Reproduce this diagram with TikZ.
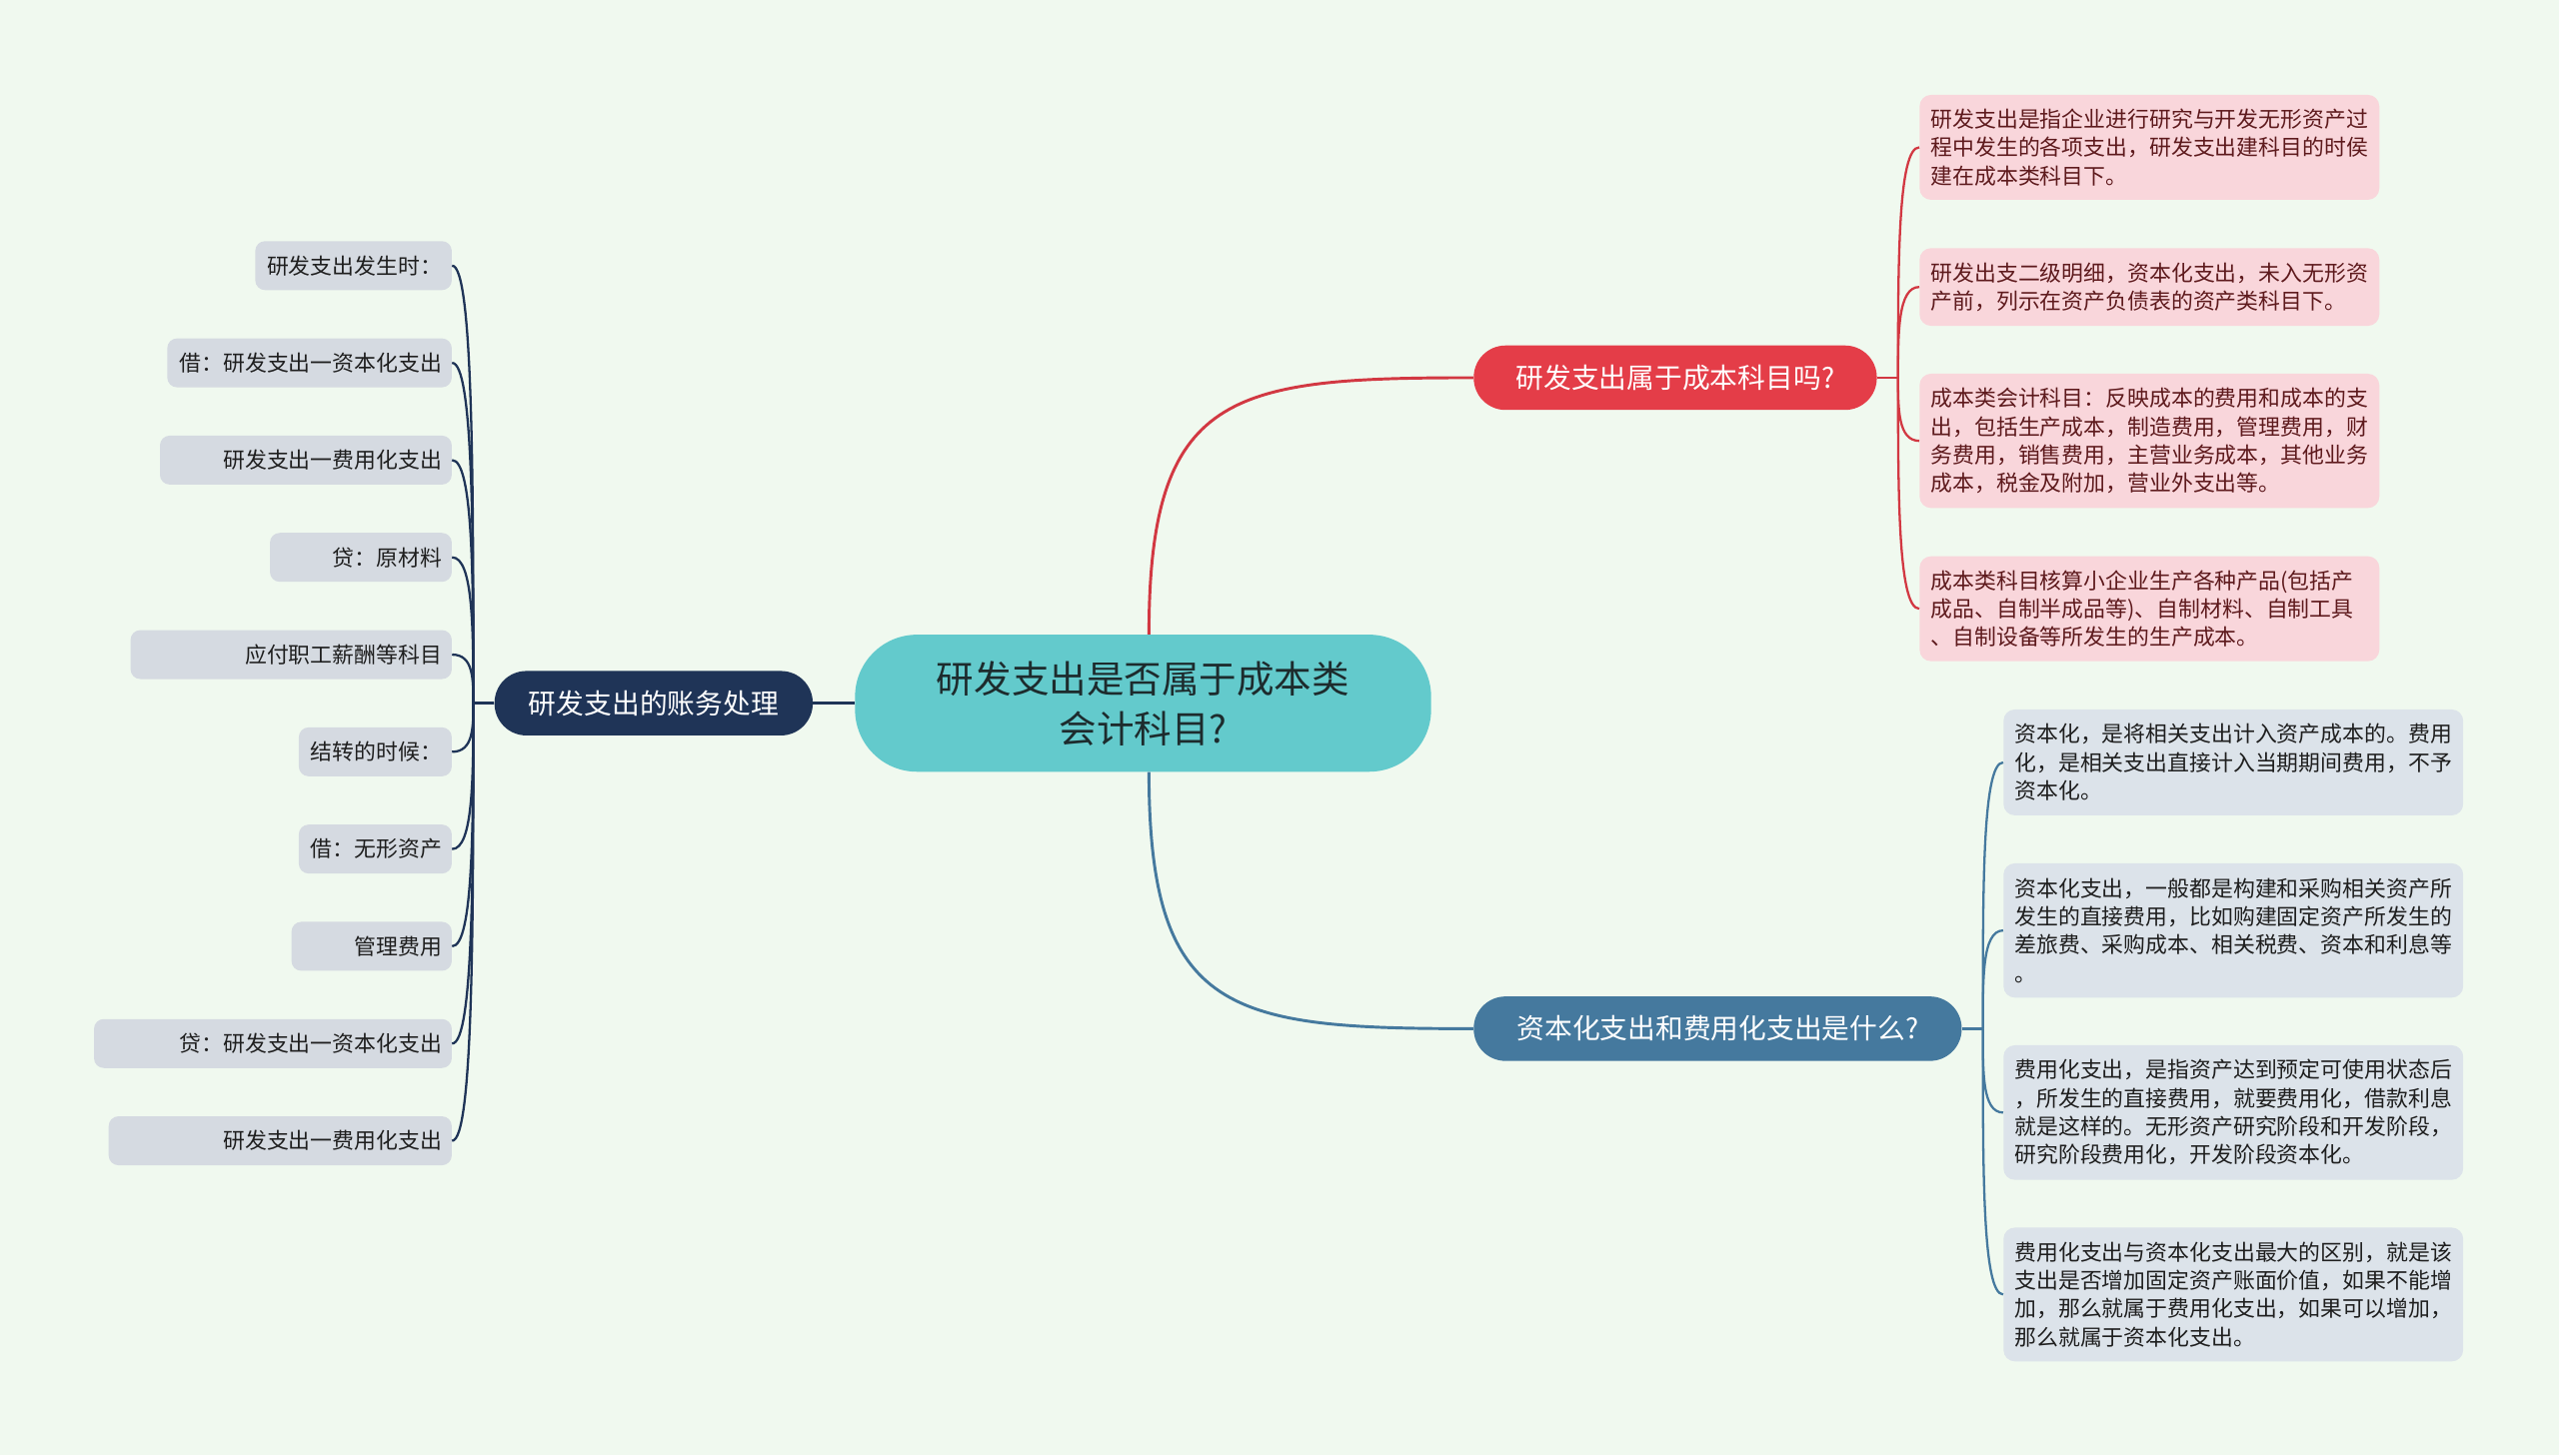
\documentclass[tikz,border=0pt]{standalone}
\usepackage{fontspec}
\setmainfont{Noto Sans CJK SC}
\usepackage{tikz}
\definecolor{Canvas}{HTML}{F0F9EF}
\definecolor{RootTeal}{HTML}{63CACC}
\definecolor{RootText}{HTML}{1D2B2D}
\definecolor{TopicNavy}{HTML}{1F3457}
\definecolor{TopicRed}{HTML}{E43D48}
\definecolor{TopicBlue}{HTML}{45799E}
\definecolor{LeafGray}{HTML}{D5DAE1}
\definecolor{LeafPink}{HTML}{F9D6DB}
\definecolor{LeafBlue}{HTML}{DCE3EA}
\definecolor{PinkText}{HTML}{5E1A1D}
\tikzset{
	root/.style={fill=RootTeal, text=RootText, rounded corners=38pt,
		minimum width=353pt, minimum height=84pt, inner sep=0pt, align=center,
		font=\fontsize{23}{30.6}\selectfont},
	topic/.style={rounded corners=19.5pt, minimum height=39.5pt, inner sep=0pt,
		text=white, font=\fontsize{17}{20}\selectfont},
	leafgray/.style={fill=LeafGray, text=black!88, rounded corners=6pt, anchor=east,
		minimum height=30pt, inner xsep=6pt, inner ysep=0pt, align=right,
		font=\fontsize{13.4}{17.35}\selectfont},
	leafpink/.style={fill=LeafPink, text=PinkText, rounded corners=7pt, anchor=west,
		text width=268pt, inner xsep=6.85pt, inner ysep=0pt, align=left,
		font=\fontsize{13.4}{17.35}\selectfont},
	leafblue/.style={leafpink, fill=LeafBlue, text=black!88},
	navyline/.style={draw=TopicNavy, line width=1.8pt},
	redline/.style={draw=TopicRed!92!black, line width=1.8pt},
	blueline/.style={draw=TopicBlue, line width=1.8pt},
	twig/.style={line width=1.4pt},
}

\begin{document}
\begin{tikzpicture}[x=1pt, y=-1pt]
		\fill[Canvas] (0,0) rectangle (1568,892);
		\useasboundingbox (0,0) rectangle (1568,892);
		
		% root and main topics
		\node[root] (ctr) at (700.4,431) {研发支出是否属于成本类\\会计科目?};
		\node[topic, fill=TopicNavy, minimum width=195pt] (acct) at (400.5,431) {研发支出的账务处理};
		\node[topic, fill=TopicRed, minimum width=247pt] (rq) at (1026.5,231.5) {研发支出属于成本科目吗?};
		\node[topic, fill=TopicBlue, minimum width=299pt] (cq) at (1052.5,630.5) {资本化支出和费用化支出是什么?};
		
		\draw[navyline] (ctr.west) -- (acct.east);
		\draw[redline] ([xshift=3.6pt]ctr.north) .. controls +(0,-149) and +(-149,0) .. (rq.west);
		\draw[blueline] ([xshift=3.6pt]ctr.south) .. controls +(0,149) and +(-149,0) .. (cq.west);
		
		% left: bookkeeping entries
		\node[leafgray, text width=108.4pt] (L1) at (277,162.8) {研发支出发生时：};
		\node[leafgray, text width=162.3pt] (L2) at (277,222.4) {借：研发支出一资本化支出};
		\node[leafgray, text width=166.8pt] (L3) at (277,282) {研发支出一费用化支出};
		\node[leafgray, text width=99.4pt] (L4) at (277,341.6) {贷：原材料};
		\node[leafgray, text width=184.8pt] (L5) at (277,401.2) {应付职工薪酬等科目};
		\node[leafgray, text width=81.7pt] (L6) at (277,460.8) {结转的时候：};
		\node[leafgray, text width=81.7pt] (L7) at (277,520.4) {借：无形资产};
		\node[leafgray, text width=86.2pt] (L8) at (277,580) {管理费用};
		\node[leafgray, text width=207.2pt] (L9) at (277,639.6) {贷：研发支出一资本化支出};
		\node[leafgray, text width=198.2pt] (L10) at (277,699.2) {研发支出一费用化支出};
		
		\coordinate (jl) at (290,431);
		\draw[navyline] (acct.west) -- (jl);
		\draw[navyline, twig] (jl) .. controls +(0,-134) and +(13,0) .. (L1.east);
		\draw[navyline, twig] (jl) .. controls +(0,-104) and +(13,0) .. (L2.east);
		\draw[navyline, twig] (jl) .. controls +(0,-75) and +(13,0) .. (L3.east);
		\draw[navyline, twig] (jl) .. controls +(0,-45) and +(13,0) .. (L4.east);
		\draw[navyline, twig] (jl) .. controls +(0,-15) and +(13,0) .. (L5.east);
		\draw[navyline, twig] (jl) .. controls +(0,15) and +(13,0) .. (L6.east);
		\draw[navyline, twig] (jl) .. controls +(0,45) and +(13,0) .. (L7.east);
		\draw[navyline, twig] (jl) .. controls +(0,75) and +(13,0) .. (L8.east);
		\draw[navyline, twig] (jl) .. controls +(0,104) and +(13,0) .. (L9.east);
		\draw[navyline, twig] (jl) .. controls +(0,134) and +(13,0) .. (L10.east);
		
		% upper right: cost accounts
		\node[leafpink, minimum height=64.3pt] (P1) at (1176,90.3)
		{研发支出是指企业进行研究与开发无形资产过\\程中发生的各项支出，研发支出建科目的时侯\\建在成本类科目下。};
		\node[leafpink, minimum height=47.6pt] (P2) at (1176,175.9)
		{研发出支二级明细，资本化支出，未入无形资\\产前，列示在资产负债表的资产类科目下。};
		\node[leafpink, minimum height=82.3pt] (P3) at (1176,270.2)
		{成本类会计科目：反映成本的费用和成本的支\\出，包括生产成本，制造费用，管理费用，财\\务费用，销售费用，主营业务成本，其他业务\\成本，税金及附加，营业外支出等。};
		\node[leafpink, minimum height=64.3pt] (P4) at (1176,373.1)
		{成本类科目核算小企业生产各种产品(包括产\\成品、自制半成品等)、自制材料、自制工具\\、自制设备等所发生的生产成本。};
		
		\coordinate (jr) at (1163,231.5);
		\draw[redline] (rq.east) -- (jr);
		\draw[redline, twig] (jr) .. controls +(0,-71) and +(-13,0) .. (P1.west);
		\draw[redline, twig] (jr) .. controls +(0,-28) and +(-13,0) .. (P2.west);
		\draw[redline, twig] (jr) .. controls +(0,19) and +(-13,0) .. (P3.west);
		\draw[redline, twig] (jr) .. controls +(0,71) and +(-13,0) .. (P4.west);
		
		% lower right: capitalised vs expensed
		\node[leafblue, minimum height=64.9pt] (B1) at (1227.4,467.3)
		{资本化，是将相关支出计入资产成本的。费用\\化，是相关支出直接计入当期期间费用，不予\\资本化。};
		\node[leafblue, minimum height=82.3pt] (B2) at (1227.4,570.3)
		{资本化支出，一般都是构建和采购相关资产所\\发生的直接费用，比如购建固定资产所发生的\\差旅费、采购成本、相关税费、资本和利息等\\。};
		\node[leafblue, minimum height=82.5pt] (B3) at (1227.4,681.9)
		{费用化支出，是指资产达到预定可使用状态后\\，所发生的直接费用，就要费用化，借款利息\\就是这样的。无形资产研究阶段和开发阶段，\\研究阶段费用化，开发阶段资本化。};
		\node[leafblue, minimum height=82pt] (B4) at (1227.4,793.4)
		{费用化支出与资本化支出最大的区别，就是该\\支出是否增加固定资产账面价值，如果不能增\\加，那么就属于费用化支出，如果可以增加，\\那么就属于资本化支出。};
		
		\coordinate (jb) at (1215,630.5);
		\draw[blueline] (cq.east) -- (jb);
		\draw[blueline, twig] (jb) .. controls +(0,-82) and +(-13,0) .. (B1.west);
		\draw[blueline, twig] (jb) .. controls +(0,-30) and +(-13,0) .. (B2.west);
		\draw[blueline, twig] (jb) .. controls +(0,26) and +(-13,0) .. (B3.west);
		\draw[blueline, twig] (jb) .. controls +(0,82) and +(-13,0) .. (B4.west);
	\end{tikzpicture}
\end{document}
